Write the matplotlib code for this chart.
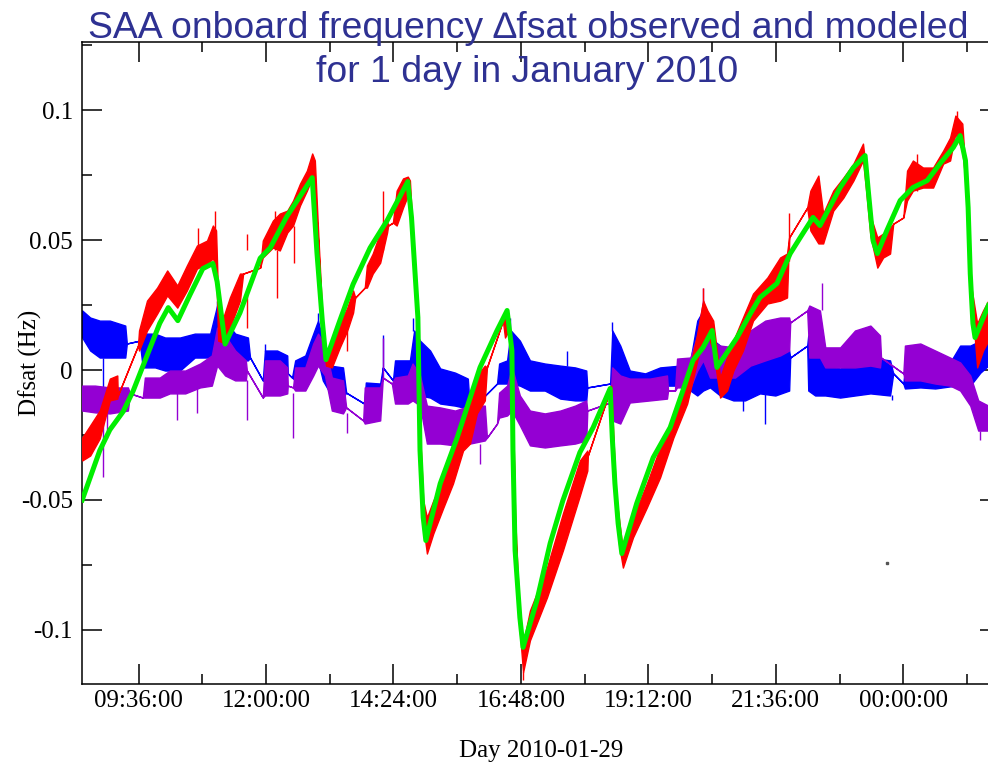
import matplotlib
matplotlib.use("Agg")
import matplotlib.pyplot as plt
from matplotlib.ticker import MultipleLocator, FuncFormatter

plt.rcParams['font.family'] = ['Liberation Serif', 'DejaVu Serif']

# time axis in hours of 2010-01-29 (values above 24 run into the next day)
# noisy traces are kept as envelopes: upper / lower value at each knot,
# knots with hi == lo are the straight joins across data gaps

# observed dfsat (red)
red_t = [8.54, 8.69, 8.87, 9.06, 9.20, 9.21, 9.59, 9.61, 9.76, 9.95, 10.14, 10.33,
         10.51, 10.70, 10.89, 11.00, 11.06, 11.10, 11.19, 11.32, 11.51, 11.57, 11.89,
         11.94, 12.13, 12.26, 12.40, 12.51, 12.64, 12.77, 12.87, 12.92, 12.98, 13.06,
         13.13, 13.24, 13.39, 13.53, 13.64, 13.68, 13.86, 13.90, 14.01, 14.15, 14.28,
         14.30, 14.39, 14.46, 14.58, 14.67, 14.71, 14.77, 14.84, 14.90, 14.96, 15.03,
         15.15, 15.34, 15.52, 15.71, 15.84, 15.97, 16.12, 16.16, 16.46, 16.50, 16.57,
         16.65, 16.69, 16.77, 16.84, 16.97, 17.29, 17.59, 17.91, 18.05, 18.06, 18.46,
         18.50, 18.54, 18.59, 18.65, 18.72, 18.91, 19.17, 19.42, 19.67, 19.93, 20.12,
         20.23, 20.31, 20.42, 20.55, 20.68, 20.80, 20.98, 21.17, 21.44, 21.68, 21.81,
         21.85, 22.19, 22.25, 22.40, 22.49, 22.68, 22.87, 23.06, 23.24, 23.30, 23.38,
         23.51, 23.62, 23.75, 23.81, 24.00, 24.07, 24.18, 24.37, 24.56, 24.75, 24.88,
         24.98, 25.11, 25.17, 25.22, 25.28, 25.39, 25.50, 25.60]
red_hi = [-.0260, -.0213, -.0156, -.0033, -.0021, -.0098, .0094, .0152, .0267, .0317, .0383, .0325,
          .0402, .0479, .0498, .0556, .0537, .0267, .0198, .0279, .0371, .0371, .0394,
          .0498, .0575, .0602, .0613, .0652, .0717, .0767, .0833, .0806, .0540, .0210,
          .0056, .0094, .0179, .0240, .0306, .0279, .0317, .0402, .0448, .0529, .0575,
          .0556, .0567, .0690, .0737, .0744, .0729, .0498, .0229, -.0233, -.0502, -.0567,
          -.0502, -.0425, -.0310, -.0221, -.0137, -.0021, .0017, .0010, .0190, .0210, .0217,
          -.0137, -.0560, -.0925, -.1052, -.0925, -.0760, -.0552, -.0348, -.0310, -.0329, -.0087,
          -.0060, -.0252, -.0480, -.0579, -.0694, -.0567, -.0437, -.0298, -.0183, -.0040, .0140,
          .0267, .0229, .0190, -.0029, .0048, .0113, .0202, .0294, .0356, .0433, .0448,
          .0510, .0625, .0690, .0748, .0602, .0690, .0740, .0794, .0871, .0767, .0594,
          .0510, .0525, .0548, .0563, .0587, .0767, .0806, .0779, .0779, .0844, .0894,
          .0979, .0948, .0767, .0550, .0320, .0179, .0229, .0267]
red_lo = [-.0348, -.0329, -.0263, -.0117, -.0110, -.0098, .0094, .0075, .0152, .0217, .0287, .0240,
          .0306, .0390, .0410, .0429, .0402, .0113, .0106, .0163, .0267, .0371, .0394,
          .0433, .0471, .0460, .0529, .0556, .0633, .0690, .0740, .0690, .0500, .0170,
          .0017, .0010, .0087, .0152, .0221, .0279, .0317, .0317, .0371, .0413, .0529,
          .0556, .0567, .0556, .0625, .0671, .0652, .0460, .0190, -.0271, -.0598, -.0706,
          -.0629, -.0529, -.0437, -.0310, -.0283, -.0167, -.0117, .0010, .0190, .0125, .0152,
          -.0175, -.0600, -.0980, -.1163, -.1040, -.0875, -.0694, -.0483, -.0387, -.0329, -.0087,
          -.0117, -.0290, -.0520, -.0675, -.0760, -.0644, -.0529, -.0413, -.0260, -.0129, .0037,
          .0113, .0140, .0075, -.0106, -.0079, -.0002, .0075, .0190, .0256, .0267, .0279,
          .0510, .0625, .0537, .0487, .0487, .0613, .0663, .0729, .0806, .0690, .0517,
          .0394, .0433, .0448, .0563, .0587, .0652, .0690, .0702, .0702, .0794, .0806,
          .0910, .0844, .0729, .0520, .0290, .0010, .0075, .0113]
red_spike_t = [10.72, 11.04, 11.64, 11.64, 12.17, 12.20, 12.53, 13.53, 14.20, 16.84, 20.23, 21.85, 24.26, 25.01]
red_spike_a = [.0548, .0613, .0525, .0163, .0613, .0460, .0556, .0152, .0690, -.1163, .0317, .0606, .0833, .0998]
red_spike_b = [.0400, .0498, .0460, .0300, .0460, .0279, .0410, .0075, .0460, -.1194, .0267, .0421, .0690, .0921]

# modeled dfsat (green)
green_t = [8.54, 8.87, 9.06, 9.31, 9.50, 9.75, 10.00, 10.16, 10.34, 10.57, 10.81, 11.00,
           11.08, 11.23, 11.51, 11.89, 12.08, 12.39, 12.87, 12.96, 13.06, 13.13, 13.39,
           13.64, 13.96, 14.28, 14.67, 14.74, 14.80, 14.86, 14.90, 14.96, 15.01, 15.28,
           15.60, 16.03, 16.35, 16.54, 16.63, 16.65, 16.69, 16.78, 16.84, 17.10, 17.35,
           17.59, 17.91, 18.16, 18.48, 18.52, 18.57, 18.63, 18.70, 18.98, 19.29, 19.61,
           19.85, 20.04, 20.23, 20.40, 20.49, 20.87, 21.12, 21.30, 21.62, 21.87, 22.06,
           22.30, 22.43, 22.81, 23.06, 23.28, 23.34, 23.43, 23.51, 23.69, 23.94, 24.18,
           24.45, 24.69, 24.94, 25.07, 25.17, 25.22, 25.26, 25.31, 25.35, 25.60]
green_v = [-.0500, -.0310, -.0230, -.0160, -.0080, .0050, .0180, .0240, .0190, .0290, .0390, .0410,
           .0340, .0100, .0220, .0430, .0470, .0590, .0740, .0450, .0190, .0040, .0190,
           .0330, .0470, .0575, .0725, .0587, .0394, .0202, -.0310, -.0567, -.0656, -.0437,
           -.0260, .0010, .0152, .0229, .0075, -.0310, -.0694, -.0952, -.1067, -.0887, -.0667,
           -.0502, -.0317, -.0221, -.0071, -.0260, -.0437, -.0590, -.0706, -.0513, -.0337, -.0221,
           -.0079, .0037, .0087, .0152, .0010, .0125, .0217, .0279, .0333, .0448, .0510,
           .0587, .0556, .0702, .0779, .0825, .0690, .0498, .0448, .0537, .0652, .0702,
           .0729, .0794, .0856, .0902, .0806, .0625, .0371, .0179, .0125, .0248]

# blue trace
blue_t = [8.54, 8.69, 8.87, 9.06, 9.35, 9.38, 9.62, 9.68, 9.91, 10.10, 10.38, 10.66, 10.95,
          11.08, 11.23, 11.42, 11.66, 11.70, 11.94, 11.98, 12.21, 12.40, 12.41, 12.49, 12.55,
          12.74, 12.89, 12.98, 13.07, 13.21, 13.45, 13.51, 13.85, 13.88, 14.15, 14.20, 14.39,
          14.43, 14.71, 14.79, 14.90, 15.09, 15.28, 15.56, 15.80, 15.84, 16.35, 16.39, 16.54,
          16.61, 16.78, 16.97, 17.25, 17.54, 17.82, 18.03, 18.05, 18.48, 18.52, 18.67, 18.85,
          19.14, 19.42, 19.80, 19.99, 20.12, 20.23, 20.36, 20.55, 20.80, 21.02, 21.30, 21.59,
          21.85, 21.87, 22.19, 22.21, 22.34, 22.53, 22.81, 23.09, 23.38, 23.75, 23.81, 24.00,
          24.03, 24.32, 24.60, 24.88, 25.07, 25.26, 25.45, 25.60]
blue_hi = [.0229, .0202, .0190, .0190, .0171, .0102, .0113, .0140, .0140, .0125, .0125, .0140, .0140,
           .0248, .0190, .0140, .0125, .0048, -.0040, .0075, .0075, .0056, -.0013, -.0029, .0037,
           .0056, .0140, .0190, .0113, .0017, .0010, -.0087, -.0129, -.0048, -.0052, .0010, -.0040,
           .0037, .0037, .0152, .0113, .0075, .0006, -.0010, -.0033, -.0156, -.0052, .0025, .0037,
           .0152, .0113, .0037, .0025, .0017, .0010, -.0002, -.0067, -.0052, .0152, .0094, -.0002,
           -.0013, .0010, .0017, .0037, .0190, .0229, .0125, .0094, .0037, .0056, .0063, .0048,
           .0075, .0048, .0094, .0133, .0094, .0017, .0006, .0025, .0048, .0037, -.0013, -.0052,
           .0006, .0017, .0006, .0029, .0094, .0094, .0113, .0133]
blue_lo = [.0125, .0075, .0048, .0048, .0048, .0102, .0113, .0010, .0010, -.0002, -.0002, .0048, .0048,
           .0075, .0075, .0037, .0037, .0048, -.0040, -.0013, -.0013, -.0013, -.0013, -.0029, -.0040,
           -.0033, .0017, .0037, -.0040, -.0090, -.0106, -.0087, -.0129, -.0129, -.0129, .0010, -.0040,
           -.0067, -.0067, -.0040, -.0098, -.0106, -.0129, -.0137, -.0148, -.0156, -.0052, -.0052, -.0052,
           -.0052, -.0060, -.0079, -.0079, -.0110, -.0117, -.0117, -.0067, -.0052, -.0079, -.0079, -.0090,
           -.0090, -.0060, -.0060, -.0079, -.0098, -.0079, -.0067, -.0098, -.0117, -.0117, -.0090, -.0098,
           -.0079, .0048, .0094, -.0079, -.0098, -.0098, -.0106, -.0098, -.0090, -.0098, -.0013, -.0052,
           -.0071, -.0067, -.0071, -.0063, -.0060, -.0060, -.0010, .0017]
blue_spike_t = [8.93, 11.08, 11.98, 12.98, 14.20, 14.77, 16.59, 17.67, 18.52, 20.98, 21.39, 23.79, 24.37]
blue_spike_a = [.0048, .0267, .0102, .0221, .0133, .0202, .0202, .0075, .0183, -.0117, -.0090, -.0098, .0063]
blue_spike_b = [-.0079, .0229, .0075, .0190, .0010, .0152, .0152, .0017, .0152, -.0156, -.0206, -.0117, .0017]

# purple trace
purple_t = [8.54, 8.78, 9.06, 9.40, 9.44, 9.68, 9.72, 10.00, 10.19, 10.48, 10.76, 10.98, 11.08,
            11.23, 11.42, 11.62, 11.64, 11.94, 11.98, 12.26, 12.40, 12.41, 12.51, 12.55, 12.74,
            12.89, 12.98, 13.11, 13.24, 13.45, 13.51, 13.83, 13.86, 14.15, 14.20, 14.37, 14.43,
            14.67, 14.76, 14.90, 15.03, 15.28, 15.56, 15.84, 16.12, 16.16, 16.35, 16.39, 16.54,
            16.63, 16.78, 16.97, 17.25, 17.54, 17.82, 18.03, 18.05, 18.48, 18.52, 18.67, 18.85,
            19.23, 19.55, 19.57, 19.70, 19.74, 19.99, 20.12, 20.23, 20.36, 20.55, 20.83, 21.12,
            21.40, 21.68, 21.85, 21.87, 22.19, 22.23, 22.43, 22.53, 22.81, 23.09, 23.38, 23.56,
            23.58, 24.00, 24.03, 24.32, 24.60, 24.88, 25.07, 25.26, 25.41, 25.60]
purple_hi = [-.0060, -.0060, -.0067, -.0067, -.0090, -.0106, -.0029, -.0029, -.0002, -.0002, .0025, .0056, .0163,
             .0133, .0075, .0037, -.0002, -.0106, .0037, .0037, .0010, -.0060, -.0067, .0010, .0010,
             .0102, .0140, .0094, -.0029, -.0040, -.0144, -.0194, -.0067, -.0067, -.0029, -.0052, -.0029,
             -.0021, .0025, -.0021, -.0137, -.0144, -.0156, -.0137, -.0137, -.0260, -.0206, -.0087, -.0060,
             .0010, -.0098, -.0156, -.0167, -.0156, -.0137, -.0117, -.0156, -.0125, .0010, -.0021, -.0033,
             -.0033, -.0021, -.0079, -.0079, .0044, .0048, .0133, .0267, .0113, .0094, .0087, .0152,
             .0190, .0202, .0202, .0183, .0229, .0248, .0229, .0087, .0087, .0152, .0171, .0133,
             .0048, -.0013, .0094, .0102, .0075, .0048, .0029, -.0021, -.0117, -.0137]
purple_lo = [-.0156, -.0163, -.0167, -.0156, -.0090, -.0106, -.0106, -.0106, -.0090, -.0090, -.0067, -.0060, .0017,
             -.0021, -.0040, -.0040, -.0002, -.0106, -.0098, -.0098, -.0090, -.0060, -.0067, -.0079, -.0079,
             -.0021, .0017, -.0021, -.0156, -.0167, -.0144, -.0194, -.0206, -.0194, -.0029, -.0052, -.0129,
             -.0129, -.0117, -.0137, -.0283, -.0283, -.0290, -.0283, -.0271, -.0260, -.0206, -.0183, -.0175,
             -.0156, -.0213, -.0290, -.0298, -.0290, -.0283, -.0271, -.0156, -.0125, -.0194, -.0206, -.0125,
             -.0117, -.0110, -.0079, -.0079, -.0067, -.0067, -.0002, .0037, -.0029, -.0029, -.0029, .0017,
             .0037, .0056, .0075, .0183, .0229, .0048, .0048, .0010, .0010, .0010, .0017, .0010,
             .0048, -.0013, -.0040, -.0040, -.0052, -.0060, -.0079, -.0137, -.0233, -.0233]
purple_spike_t = [8.93, 9.01, 10.33, 10.70, 11.64, 12.51, 13.53, 14.20, 16.03, 20.23, 22.47, 25.45]
purple_spike_a = [-.0167, -.0167, -.0090, -.0067, -.0040, -.0090, -.0167, .0125, -.0283, .0317, .0333, -.0233]
purple_spike_b = [-.0413, -.0260, -.0194, -.0167, -.0194, -.0260, -.0244, -.0029, -.0360, .0267, .0229, -.0271]

# lone grey dot below the traces
stray_t = [23.69]
stray_v = [-.0744]

title_lines = ["SAA onboard frequency \u2206fsat observed and modeled",
               "for 1 day in January 2010"]

fig = plt.figure(figsize=(9.88, 7.67), dpi=100)
# the frame runs past the right edge of the picture, as in the original
ax = fig.add_axes([82 / 988, 1 - 684 / 767, 918 / 988, 642 / 767])

ax.fill_between(blue_t, blue_lo, blue_hi, color='#0000ff', lw=1.0, zorder=2)
ax.vlines(blue_spike_t, blue_spike_b, blue_spike_a, color='#0000ff', lw=1.0, zorder=2)
ax.fill_between(purple_t, purple_lo, purple_hi, color='#9400d3', lw=1.0, zorder=3)
ax.vlines(purple_spike_t, purple_spike_b, purple_spike_a, color='#9400d3', lw=1.0, zorder=3)
ax.fill_between(red_t, red_lo, red_hi, color='#ff0000', lw=1.0, zorder=4)
ax.vlines(red_spike_t, red_spike_b, red_spike_a, color='#ff0000', lw=1.0, zorder=4)
ax.plot(green_t, green_v, color='#00ee00', lw=3.6, solid_joinstyle='round', zorder=5)
ax.plot(stray_t, stray_v, ls='none', marker='s', ms=1.5, color='#555555')

ax.set_xlim(8.536, 25.82)
ax.set_ylim(-0.1208, 0.1262)


def hhmmss(h, pos=None):
    s = int(round(h * 3600)) % 86400
    return "%02d:%02d:%02d" % (s // 3600, s % 3600 // 60, s % 60)


ax.xaxis.set_major_locator(MultipleLocator(2.4))
ax.xaxis.set_minor_locator(MultipleLocator(1.2))
ax.xaxis.set_major_formatter(FuncFormatter(hhmmss))
ax.yaxis.set_major_locator(MultipleLocator(0.05))
ax.yaxis.set_minor_locator(MultipleLocator(0.025))
ax.yaxis.set_major_formatter(FuncFormatter(lambda v, pos: "%g" % round(v, 4)))

ax.tick_params(which='both', direction='in', top=True, right=True, width=1.1,
               colors='black', labelsize=18)
ax.tick_params(which='major', length=14.4)
ax.tick_params(which='minor', length=7.2)
ax.tick_params(axis='x', pad=4.5)
ax.tick_params(axis='y', pad=6.5)
for sp in ax.spines.values():
    sp.set_linewidth(1.1)

ax.set_xlabel("Day 2010-01-29", fontsize=18)
ax.xaxis.set_label_coords(0.5, -0.087)
ax.set_ylabel("Dfsat (Hz)", fontsize=18)
ax.yaxis.set_label_coords(-0.044, 0.5)

fig.text(528 / 988, 1 - 38 / 767, title_lines[0], ha='center', va='baseline',
         fontsize=26.9, color='#2e3192', family=['Liberation Sans', 'DejaVu Sans'])
fig.text(527 / 988, 1 - 82 / 767, title_lines[1], ha='center', va='baseline',
         fontsize=26.9, color='#2e3192', family=['Liberation Sans', 'DejaVu Sans'])

fig.savefig("out.png", dpi=100)
